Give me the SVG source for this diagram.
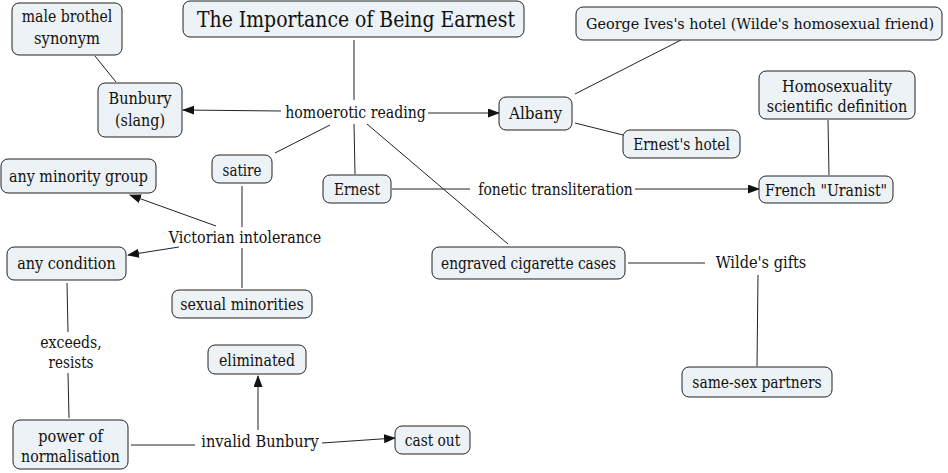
<svg xmlns="http://www.w3.org/2000/svg" width="948" height="473" viewBox="0 0 948 473">
<style>
.n rect{fill:#ecf2f5;stroke:#222;stroke-width:1}
text{font-family:'DejaVu Serif',serif;font-size:16px;fill:#111;text-anchor:middle}
.t{font-size:21.5px}
.s{font-size:14.5px}
#connectors line{stroke:#222;stroke-width:1;fill:none}
#connectors line.a{marker-end:url(#ah)}
</style>
<defs>
<marker id="ah" markerUnits="userSpaceOnUse" markerWidth="12" markerHeight="10" refX="11" refY="4.5" orient="auto"><path d="M0,0 L12,4.5 L0,9 z" fill="#111"/></marker>
</defs>
<g id="connectors">
<line x1="354" y1="40" x2="354" y2="100"/>
<line class="a" x1="281" y1="111" x2="183" y2="110"/>
<line class="a" x1="428" y1="113" x2="499" y2="113"/>
<line x1="95" y1="56" x2="116" y2="82"/>
<line x1="575" y1="94" x2="681" y2="40"/>
<line x1="575" y1="123" x2="623" y2="135"/>
<line x1="828" y1="120" x2="829" y2="175"/>
<line x1="392" y1="189" x2="470" y2="189"/>
<line class="a" x1="635" y1="189" x2="759" y2="189"/>
<line x1="354" y1="124" x2="355" y2="174"/>
<line x1="330" y1="125" x2="275" y2="153"/>
<line x1="367" y1="124" x2="508" y2="244"/>
<line x1="628" y1="263" x2="705" y2="263"/>
<line x1="758" y1="275" x2="757" y2="366"/>
<line x1="242" y1="186" x2="242" y2="227"/>
<line x1="242" y1="248" x2="242" y2="288"/>
<line class="a" x1="216" y1="226" x2="130" y2="195"/>
<line class="a" x1="179" y1="247" x2="128" y2="255"/>
<line x1="67" y1="283" x2="68" y2="332"/>
<line x1="68" y1="373" x2="69" y2="418"/>
<line x1="131" y1="445" x2="195" y2="445"/>
<line class="a" x1="258" y1="430" x2="258" y2="376"/>
<line class="a" x1="322" y1="443" x2="395" y2="438"/>
</g>
<g id="title" class="n"><rect x="183" y="1" width="341" height="36" rx="7"/><text class="t" x="356" y="27" textLength="318" lengthAdjust="spacingAndGlyphs">The Importance of Being Earnest</text></g>
<g id="male" class="n"><rect x="12" y="3" width="110" height="52" rx="7"/><text x="67" y="22" textLength="90.5" lengthAdjust="spacingAndGlyphs">male brothel</text><text x="67" y="44" textLength="66" lengthAdjust="spacingAndGlyphs">synonym</text></g>
<g id="bunbury" class="n"><rect x="98" y="83" width="84" height="54" rx="7"/><text x="140" y="104" textLength="63" lengthAdjust="spacingAndGlyphs">Bunbury</text><text x="140" y="126" textLength="50" lengthAdjust="spacingAndGlyphs">(slang)</text></g>
<g id="albany" class="n"><rect x="499" y="97" width="73" height="33" rx="7"/><text x="535.5" y="119" textLength="53" lengthAdjust="spacingAndGlyphs">Albany</text></g>
<g id="ives" class="n"><rect x="576" y="7" width="366" height="33" rx="7"/><text class="s" x="760" y="29" textLength="348" lengthAdjust="spacingAndGlyphs">George Ives's hotel (Wilde's homosexual friend)</text></g>
<g id="ernesthotel" class="n"><rect x="623" y="130" width="117" height="28" rx="7"/><text x="681.5" y="150" textLength="96.7" lengthAdjust="spacingAndGlyphs">Ernest's hotel</text></g>
<g id="homosex" class="n"><rect x="759" y="71" width="156" height="48" rx="7"/><text x="837" y="92" textLength="110" lengthAdjust="spacingAndGlyphs">Homosexuality</text><text x="837" y="112" textLength="140.5" lengthAdjust="spacingAndGlyphs">scientific definition</text></g>
<g id="uranist" class="n"><rect x="759" y="176" width="134" height="27" rx="7"/><text x="826" y="196" textLength="122.2" lengthAdjust="spacingAndGlyphs">French "Uranist"</text></g>
<g id="ernest" class="n"><rect x="323" y="175" width="68" height="28" rx="7"/><text x="357" y="195" textLength="46" lengthAdjust="spacingAndGlyphs">Ernest</text></g>
<g id="satire" class="n"><rect x="212" y="155" width="60" height="28" rx="7"/><text x="242" y="176" textLength="39" lengthAdjust="spacingAndGlyphs">satire</text></g>
<g id="anyminority" class="n"><rect x="1" y="159" width="155" height="34" rx="7"/><text x="78.5" y="182" textLength="139" lengthAdjust="spacingAndGlyphs">any minority group</text></g>
<g id="anycondition" class="n"><rect x="7" y="247" width="119" height="33" rx="7"/><text x="66.5" y="269" textLength="98.5" lengthAdjust="spacingAndGlyphs">any condition</text></g>
<g id="sexualmin" class="n"><rect x="172" y="290" width="140" height="28" rx="7"/><text x="242" y="310" textLength="123.5" lengthAdjust="spacingAndGlyphs">sexual minorities</text></g>
<g id="cigarette" class="n"><rect x="432" y="247" width="193" height="32" rx="7"/><text x="528.5" y="269" textLength="175" lengthAdjust="spacingAndGlyphs">engraved cigarette cases</text></g>
<g id="samesex" class="n"><rect x="682" y="367" width="150" height="30" rx="7"/><text x="757" y="388" textLength="129.5" lengthAdjust="spacingAndGlyphs">same-sex partners</text></g>
<g id="eliminated" class="n"><rect x="208" y="345" width="98" height="29" rx="7"/><text x="257" y="366" textLength="76" lengthAdjust="spacingAndGlyphs">eliminated</text></g>
<g id="power" class="n"><rect x="13" y="420" width="115" height="49" rx="7"/><text x="70.5" y="442" textLength="64.5" lengthAdjust="spacingAndGlyphs">power of</text><text x="70.5" y="462" textLength="99" lengthAdjust="spacingAndGlyphs">normalisation</text></g>
<g id="castout" class="n"><rect x="395" y="426" width="75" height="28" rx="7"/><text x="432.5" y="446" textLength="55.5" lengthAdjust="spacingAndGlyphs">cast out</text></g>
<g id="homoerotic"><text x="355.5" y="118" textLength="140.5" lengthAdjust="spacingAndGlyphs">homoerotic reading</text></g>
<g id="fonetic"><text x="555.5" y="195" textLength="154.5" lengthAdjust="spacingAndGlyphs">fonetic transliteration</text></g>
<g id="victorian"><text x="245" y="243" textLength="152.5" lengthAdjust="spacingAndGlyphs">Victorian intolerance</text></g>
<g id="wilde"><text x="761" y="268" textLength="90.7" lengthAdjust="spacingAndGlyphs">Wilde's gifts</text></g>
<g id="exceeds"><text x="71" y="348" textLength="61.5" lengthAdjust="spacingAndGlyphs">exceeds,</text><text x="71" y="368" textLength="45" lengthAdjust="spacingAndGlyphs">resists</text></g>
<g id="invalid"><text x="260" y="447" textLength="117.5" lengthAdjust="spacingAndGlyphs">invalid Bunbury</text></g>
</svg>
